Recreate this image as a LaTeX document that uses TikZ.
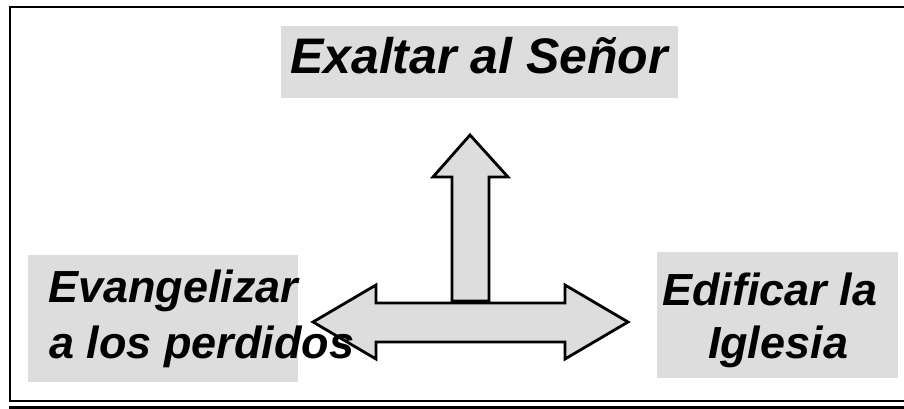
\documentclass[tikz,border=0pt]{standalone}
\usepackage{fontspec}
\setmainfont{Liberation Sans}
\definecolor{boxgray}{RGB}{221,221,221}
\tikzset{
	box/.style={fill=boxgray, inner sep=0pt},
	bigtext/.style={inner sep=0pt, font=\fontsize{28.45}{34}\selectfont\bfseries\itshape},
	smalltext/.style={inner sep=0pt, font=\fontsize{25.6}{31.9}\selectfont\bfseries\itshape},
	blockarrow/.style={fill=boxgray, draw=black, line width=1.6pt, line join=miter}
}
\begin{document}
\begin{tikzpicture}[x=0.02cm, y=-0.02cm]
	\useasboundingbox (0,0) rectangle (904,409);
	\clip (0,0) rectangle (904,409);
	\draw[line width=1.15pt] (10,7) rectangle (920,401);
	\fill (9,406) rectangle (910,412);

	\node[box, minimum width=7.94cm, minimum height=1.44cm] (senorbox) at (479.5,62) {};
	\node[box, minimum width=5.4cm, minimum height=2.54cm] (perdidosbox) at (163,318.5) {};
	\node[box, minimum width=4.82cm, minimum height=2.52cm] (iglesiabox) at (777.5,315) {};

	\draw[blockarrow] (470,135) -- (508,177) -- (489,177) -- (489,301) -- (452,301) -- (452,177) -- (433,177) -- cycle;
	\draw[blockarrow] (313,322) -- (376,285) -- (376,303) -- (565,303) -- (565,285) -- (628,322)
		-- (565,359) -- (565,342) -- (376,342) -- (376,359) -- cycle;

	\node[bigtext, anchor=base] (senor) at (479,73) {Exaltar al Señor};
	\node[smalltext, anchor=base west] (evangelizar) at (48,302) {Evangelizar};
	\node[smalltext, anchor=base west] (perdidos) at (49,358) {a los perdidos};
	\node[smalltext, anchor=base] (edificar) at (770,305) {Edificar la};
	\node[smalltext, anchor=base] (iglesia) at (778,358) {Iglesia};
\end{tikzpicture}
\end{document}
